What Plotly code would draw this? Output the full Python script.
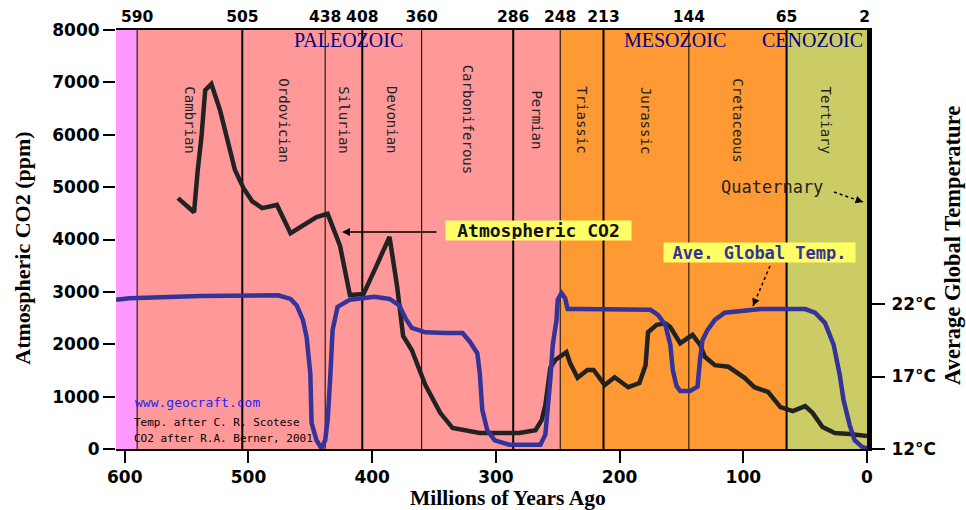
import plotly.graph_objects as go

# ---- data -------------------------------------------------------------
# Atmospheric CO2 (ppm) through the Phanerozoic, after R.A. Berner (2001)
co2_age = [557, 544, 541, 538, 535, 533, 530, 523, 517, 511, 504, 497, 489,
           477, 466, 456, 445, 436, 426, 418, 407, 398, 386, 380, 375, 368,
           357, 345, 335, 313, 281, 268, 263, 260, 256, 252, 247, 243, 240,
           234, 226, 221, 212, 204, 193, 184, 179, 177, 170, 163, 159, 151,
           141, 135, 131, 123, 112, 99, 91, 80, 70, 60, 50, 44, 36, 26, 14, 0]
co2_ppm = [4790, 4520, 5330, 5960, 6850, 6910, 6970, 6470, 5900, 5330, 4980,
           4730, 4600, 4660, 4120, 4280, 4430, 4490, 3880, 2940, 2960, 3420,
           4050, 3130, 2160, 1890, 1220, 690, 400, 305, 305, 360, 550, 840,
           1550, 1700, 1780, 1850, 1640, 1360, 1510, 1510, 1220, 1370, 1180,
           1260, 1600, 2230, 2370, 2400, 2330, 2020, 2180, 1990, 1760, 1600,
           1570, 1360, 1180, 1090, 800, 725, 820, 690, 420, 305, 285, 250]

# Average global temperature (deg C), after C. R. Scotese
temp_age = [607, 596, 539, 496, 476, 466, 461, 456, 453, 450, 449, 445, 441,
            438, 436, 434, 432, 428, 418, 398, 386, 378, 373, 368, 357, 341,
            327, 321, 315, 313, 311, 307, 301, 289, 264, 260, 258, 256, 254,
            251, 250, 247, 244, 242, 232, 175, 169, 163, 159, 157, 154, 151,
            143, 137, 135, 133, 129, 123, 115, 103, 86, 50, 42, 34, 27, 22,
            19, 14, 10, 4, 0]
temp_c = [22.3, 22.4, 22.55, 22.6, 22.6, 22.35, 21.9, 20.9, 19.7, 17.2, 13.8,
          12.6, 12.05, 12.6, 14.0, 16.8, 20.2, 21.8, 22.3, 22.5, 22.35, 21.9,
          21.0, 20.35, 20.05, 20.0, 20.0, 19.4, 18.6, 17.2, 14.7, 13.3, 12.6,
          12.3, 12.3, 13.0, 14.7, 16.8, 19.2, 20.9, 22.3, 22.75, 22.4, 21.65,
          21.65, 21.6, 21.25, 20.55, 19.2, 17.45, 16.35, 16.0, 16.0, 16.3,
          18.15, 19.5, 20.2, 20.9, 21.4, 21.5, 21.65, 21.65, 21.4, 20.7, 19.2,
          17.1, 15.4, 13.65, 12.6, 12.15, 12.05]

# Geological time scale (Ma)
boundary_ages = [590, 505, 438, 408, 360, 286, 248, 213, 144, 65]
top_tick_ages = boundary_ages + [2]
period_names = ["Cambrian", "Ordovician", "Silurian", "Devonian",
                "Carboniferous", "Permian", "Triassic", "Jurassic",
                "Cretaceous", "Tertiary"]
period_ends = boundary_ages[1:] + [2]
era_names = ["PALEOZOIC", "MESOZOIC", "CENOZOIC"]
era_label_ages = [419, 155, 44]

co2_ticks = [0, 1000, 2000, 3000, 4000, 5000, 6000, 7000, 8000]
age_ticks = [600, 500, 400, 300, 200, 100, 0]
temp_ticks = [12, 17, 22]
temp_tick_text = ["12°C", "17°C", "22°C"]

# ---- styling ----------------------------------------------------------
X_MAX = 607.1
T_TOP = 12 + 419 / 14.5
tick_font = dict(family="DejaVu Sans", size=17, color="black", weight="bold")
top_tick_font = dict(family="DejaVu Sans", size=15.5, color="black", weight="bold")
mono = "DejaVu Sans Mono"


def title_font(size):
    return dict(family="Liberation Serif", size=size, color="black", weight="bold")


fig = go.Figure()

fig.add_trace(go.Scatter(
    x=co2_age, y=co2_ppm, mode="lines", xaxis="x", yaxis="y",
    line=dict(color="#222222", width=4.5), hoverinfo="skip", showlegend=False))
fig.add_trace(go.Scatter(
    x=temp_age, y=temp_c, mode="lines", xaxis="x", yaxis="y2",
    line=dict(color="#333399", width=4.5), hoverinfo="skip", showlegend=False))
# empty trace so the top (boundary) axis gets a subplot
fig.add_trace(go.Scatter(x=[], y=[], xaxis="x2", yaxis="y",
                         hoverinfo="skip", showlegend=False))

# background bands
bands = [(X_MAX, 590, "#ff99ff"), (590, 248, "#ff9999"),
         (248, 65, "#ff9933"), (65, 0, "#cccc66")]
for x0, x1, col in bands:
    fig.add_shape(type="rect", xref="x", yref="paper", x0=x0, x1=x1, y0=0, y1=1,
                  fillcolor=col, line=dict(width=0), layer="below")

# period boundaries
for i, age in enumerate(boundary_ages):
    fig.add_shape(type="line", xref="x", yref="paper", x0=age, x1=age, y0=0, y1=1,
                  line=dict(color="black", width=1 if i % 2 == 0 else 2),
                  layer="below")

annotations = []

# period names, rotated
for name, a0, a1 in zip(period_names, boundary_ages, period_ends):
    annotations.append(dict(
        x=(a0 + a1) / 2, y=6280, xref="x", yref="y", text=name, showarrow=False,
        textangle=90, font=dict(family=mono, size=14, color="#222222")))

# era names
for name, age in zip(era_names, era_label_ages):
    annotations.append(dict(
        x=age, y=7800, xref="x", yref="y", text=name, showarrow=False,
        font=dict(family="Liberation Serif", size=20, color="#000080")))

# series call-outs
annotations.append(dict(
    x=265.6, y=4170, xref="x", yref="y", text="Atmospheric CO2", showarrow=False,
    bgcolor="#ffff66", width=183, height=17, borderpad=1,
    font=dict(family=mono, size=18, color="#111111", weight="bold")))
annotations.append(dict(
    x=424.4, y=4143, xref="x", yref="y", ax=346.8, ay=4143, axref="x", ayref="y",
    text="", showarrow=True, arrowhead=2, arrowsize=1, arrowwidth=1.6,
    arrowcolor="black", standoff=0))

annotations.append(dict(
    x=86.9, y=3750, xref="x", yref="y", text="Ave. Global Temp.", showarrow=False,
    bgcolor="#ffff66", width=189, height=17, borderpad=1,
    font=dict(family=mono, size=17, color="#333399", weight="bold")))

annotations.append(dict(
    x=76.8, y=5000, xref="x", yref="y", text="Quaternary", showarrow=False,
    font=dict(family=mono, size=17, color="#222222")))

# dashed leader lines with arrow heads
leaders = [((78.4, 3493), (92.2, 2730), (3.1, -7.4)),
           ((26.7, 4906), (3.2, 4715), (-7.6, -2.6))]
for (tx, ty), (hx, hy), (ax, ay) in leaders:
    fig.add_shape(type="line", xref="x", yref="y", x0=tx, y0=ty, x1=hx, y1=hy,
                  line=dict(color="black", width=1.5, dash="dot"))
    annotations.append(dict(x=hx, y=hy, xref="x", yref="y", ax=ax, ay=ay,
                            text="", showarrow=True, arrowhead=2, arrowsize=1,
                            arrowwidth=1.5, arrowcolor="black", standoff=0))

# credits
annotations.append(dict(x=593.4, y=897, xref="x", yref="y", xanchor="left",
                        text="www.geocraft.com", showarrow=False,
                        font=dict(family=mono, size=13, color="#1f1fff")))
annotations.append(dict(x=594.2, y=515, xref="x", yref="y", xanchor="left",
                        text="Temp. after C. R. Scotese", showarrow=False,
                        font=dict(family=mono, size=11, color="black")))
annotations.append(dict(x=594.2, y=210, xref="x", yref="y", xanchor="left",
                        text="CO2 after R.A. Berner, 2001", showarrow=False,
                        font=dict(family=mono, size=11, color="black")))

# axis titles
annotations.append(dict(x=0.522, y=-0.117, xref="paper", yref="paper",
                        xanchor="center", yanchor="middle",
                        text="Millions of Years Ago", showarrow=False,
                        font=title_font(21.5)))
annotations.append(dict(x=-0.124, y=0.48, xref="paper", yref="paper",
                        xanchor="center", yanchor="middle",
                        text="Atmospheric CO2 (ppm)", showarrow=False,
                        textangle=-90, font=title_font(22)))
annotations.append(dict(x=1.1145, y=0.487, xref="paper", yref="paper",
                        xanchor="center", yanchor="middle",
                        text="Average Global Temperature", showarrow=False,
                        textangle=-90, font=title_font(22.5)))

fig.update_layout(
    width=966, height=510,
    margin=dict(l=116, r=99, t=30, b=61, autoexpand=False),
    paper_bgcolor="white", plot_bgcolor="white",
    showlegend=False,
    annotations=annotations,
    xaxis=dict(range=[X_MAX, 0], tickvals=age_ticks, ticks="outside",
               ticklen=12, tickwidth=2, tickcolor="black", showline=True,
               linecolor="black", linewidth=2, showgrid=False, zeroline=False,
               tickangle=0, automargin=False, tickfont=tick_font),
    xaxis2=dict(range=[X_MAX, 0], overlaying="x", side="top", anchor="y",
                tickvals=top_tick_ages, ticktext=[str(a) for a in top_tick_ages],
                ticks="", showline=True, linecolor="black", linewidth=2,
                showgrid=False, zeroline=False, tickangle=0, automargin=False,
                tickfont=top_tick_font),
    yaxis=dict(range=[0, 8000], tickvals=co2_ticks, ticks="outside", ticklen=12,
               tickwidth=2, tickcolor="black", showline=False, showgrid=False,
               zeroline=False, automargin=False, tickfont=tick_font),
    yaxis2=dict(range=[12, T_TOP], overlaying="y", side="right", anchor="x",
                tickvals=temp_ticks, ticktext=temp_tick_text, ticks="outside",
                ticklen=13, tickwidth=2, tickcolor="black", showline=True,
                linecolor="black", linewidth=5, showgrid=False, zeroline=False,
                ticklabelstandoff=3, automargin=False, tickfont=tick_font),
)

fig.write_html("out.html")
